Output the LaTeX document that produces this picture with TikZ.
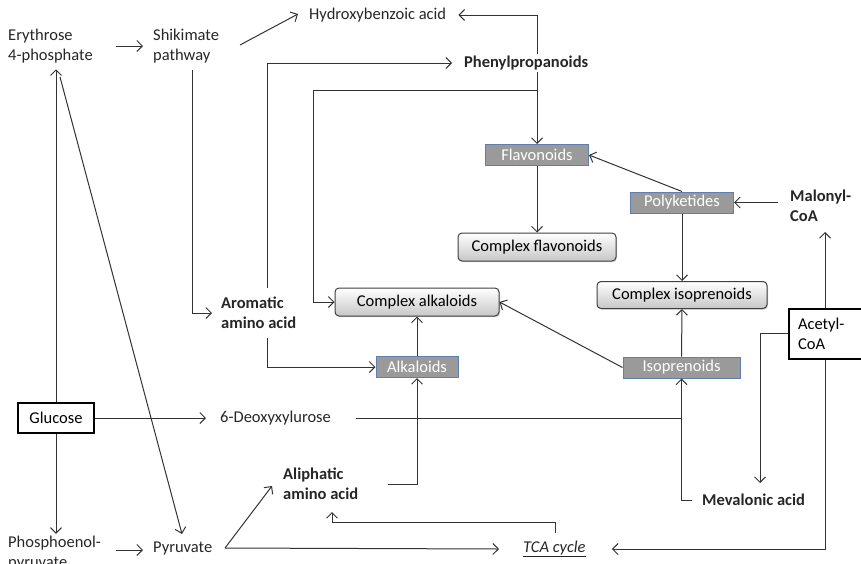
\documentclass[tikz,border=0pt]{standalone}
\usepackage{fontspec}
\setmainfont{Carlito}
\usetikzlibrary{arrows.meta,calc,shadows}
\definecolor{boxgray}{HTML}{9A9A9A}
\definecolor{boxedge}{HTML}{5F7FB0}
\definecolor{linecol}{HTML}{333333}
\begin{document}
\begin{tikzpicture}[x=1pt,y=-1pt,
  every node/.style={font=\fontsize{16.5}{20}\selectfont, inner sep=2pt},
  lbl/.style={align=left, anchor=west, text=black!85},
  bold/.style={lbl, font=\fontsize{16.5}{20}\selectfont\bfseries},
  gbox/.style={draw=boxedge, line width=1pt, fill=boxgray, text=white, minimum height=20pt, inner sep=0pt},
  cbox/.style={draw=black!75, line width=1pt, rounded corners=4pt, top color=white, bottom color=black!22, minimum height=28pt, inner sep=0pt, drop shadow={shadow xshift=1pt, shadow yshift=-1.2pt, opacity=0.35}},
  kbox/.style={draw=black, line width=2pt, fill=white},
  ln/.style={draw=linecol, line width=1pt},
  arr/.style={ln, -{Straight Barb[length=5.5pt,width=11pt,line width=1pt]}}
]
\useasboundingbox (0,0) rectangle (861,563);

% nodes
\node[lbl] (ery) at (6,46) {Erythrose\\4-phosphate};
\node[lbl] (shik) at (151,46) {Shikimate\\pathway};
\node[lbl] (hyd) at (307,15) {Hydroxybenzoic acid};
\node[bold] (phen) at (462,63) {Phenylpropanoids};
\node[gbox, minimum width=103pt, minimum height=21pt] (flav) at (537,155) {Flavonoids};
\node[cbox, minimum width=158pt] (cflav) at (537,247) {Complex flavonoids};
\node[gbox, minimum width=103pt, minimum height=21pt] (poly) at (682,202.5) {Polyketides};
\node[bold] (malo) at (788,206) {Malonyl-\\CoA};
\node[cbox, minimum width=170pt, minimum height=27pt] (cisop) at (682,295) {Complex isoprenoids};
\node[cbox, minimum width=164pt] (calk) at (417,302) {Complex alkaloids};
\node[bold] (arom) at (219,313) {Aromatic\\amino acid};
\node[gbox, minimum width=82pt, minimum height=21pt] (alk) at (417,367) {Alkaloids};
\node[gbox, minimum width=117pt, minimum height=21pt] (isop) at (681.5,367.5) {Isoprenoids};
\node[kbox, anchor=west, align=left, text width=60pt, inner xsep=9pt, minimum height=50pt] (acet) at (788,333.5) {Acetyl-\\CoA};
\node[kbox, minimum width=76pt, minimum height=30pt] (glu) at (56,418) {Glucose};
\node[lbl] (deoxy) at (218,418) {6-Deoxyxylurose};
\node[bold] (aliph) at (281,484) {Aliphatic\\amino acid};
\node[bold] (meva) at (700,500) {Mevalonic acid};
\node[lbl] (pep) at (6,553) {Phosphoenol-\\pyruvate};
\node[lbl] (pyr) at (151,549) {Pyruvate};
\node[lbl, font=\fontsize{16.5}{20}\selectfont\itshape] (tca) at (521,549) {\underline{TCA cycle}};

% helper coordinates
\coordinate (j1) at (537,90);
\coordinate (c1) at (313,90);
\coordinate (c2) at (267,288);
\coordinate (c3) at (192,70);
\coordinate (c4) at (267,338);
\coordinate (c5) at (760,483);
\coordinate (c6) at (825,232);
\coordinate (c7) at (555,533);
\coordinate (c8) at (332,512);
\coordinate (c9) at (356,418);
\coordinate (e1) at (116,46);
\coordinate (e2) at (143,46);
\coordinate (s1) at (240,45);
\coordinate (s2) at (298,14);
\coordinate (p1) at (116,550);
\coordinate (p2) at (143,550);
\coordinate (y1) at (225,548);
\coordinate (ed) at (60,77);

% connectors
\draw[arr] (e1) -- (e2);
\draw[arr] (s1) -- (s2);
\draw[arr] (j1 |- phen.north) |- ([xshift=10pt]hyd.east);
\draw[arr] (j1 |- phen.south) -- (flav.north);
\draw[arr] (j1) -- (c1) |- (calk.west);
\draw[arr] (c2) |- ([xshift=-10pt]phen.west);
\draw[arr] (c3) |- ([xshift=-7pt]arom.west);
\draw[arr] (c4) |- (alk.west);
\draw[arr] (alk.north) -- (calk.south);
\draw[arr] ([xshift=28pt]aliph.east) -| (alk.south);
\draw[arr] (isop.west) -- (calk.east);
\draw[arr] (isop.north) -- (cisop.south);
\draw[arr] (poly.south) -- (cisop.north);
\draw[arr] (poly.north) -- (flav.east);
\draw[arr] ($(malo.west |- poly.east)+(-10,0)$) -- (poly.east);
\draw[arr] (flav.south) -- (cflav.north);
\draw[arr] (acet.west) -| (c5);
\draw[arr] (acet.north -| c6) -- (c6);
\draw[arr] (acet.south -| c6) |- ([xshift=24pt]tca.east);
\draw[arr] ([xshift=-8pt]meva.west) -| (isop.south);
\draw[ln] (c9) -- (c9 -| isop.south);
\draw[arr] (glu.east) -- ([xshift=-12pt]deoxy.west);
\draw[arr] (glu.north) -- ([yshift=-4pt]glu.north |- ery.south);
\draw[arr] (glu.south) -- (glu.south |- pep.north);
\draw[arr] (ed) -- (182,534);
\draw[arr] (p1) -- (p2);
\draw[arr] (y1) -- (272,486);
\draw[arr] (y1) -- (499,549);
\draw[arr] (c7) -- (c7 |- 0,522) -| (c8);
\end{tikzpicture}
\end{document}
